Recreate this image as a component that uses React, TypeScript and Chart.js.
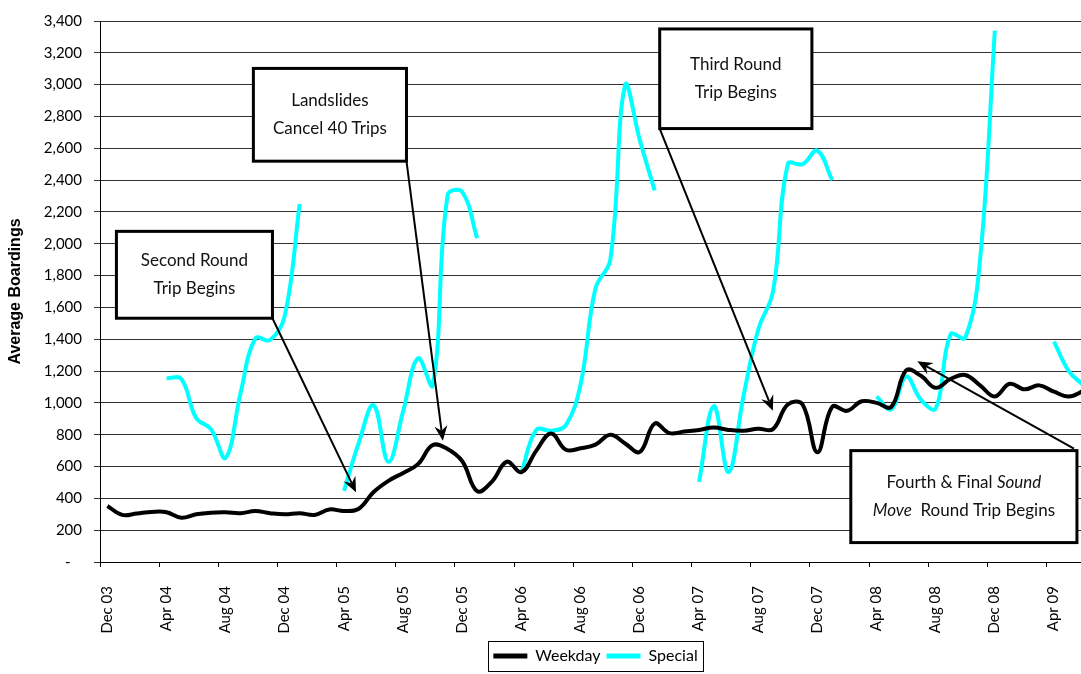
import React, { useEffect, useRef } from 'react';
import { Chart, registerables } from 'chart.js';
Chart.register(...registerables);

const FONT = "Lato, 'DejaVu Sans', sans-serif";

const months = [
  'Dec 03',
  'Jan 04', 'Feb 04', 'Mar 04', 'Apr 04', 'May 04', 'Jun 04', 'Jul 04', 'Aug 04', 'Sep 04', 'Oct 04', 'Nov 04', 'Dec 04',
  'Jan 05', 'Feb 05', 'Mar 05', 'Apr 05', 'May 05', 'Jun 05', 'Jul 05', 'Aug 05', 'Sep 05', 'Oct 05', 'Nov 05', 'Dec 05',
  'Jan 06', 'Feb 06', 'Mar 06', 'Apr 06', 'May 06', 'Jun 06', 'Jul 06', 'Aug 06', 'Sep 06', 'Oct 06', 'Nov 06', 'Dec 06',
  'Jan 07', 'Feb 07', 'Mar 07', 'Apr 07', 'May 07', 'Jun 07', 'Jul 07', 'Aug 07', 'Sep 07', 'Oct 07', 'Nov 07', 'Dec 07',
  'Jan 08', 'Feb 08', 'Mar 08', 'Apr 08', 'May 08', 'Jun 08', 'Jul 08', 'Aug 08', 'Sep 08', 'Oct 08', 'Nov 08', 'Dec 08',
  'Jan 09', 'Feb 09', 'Mar 09', 'Apr 09', 'May 09', 'Jun 09',
];

// months that carry an axis label (every fourth month)
const labelledMonths = [
  'Dec 03', 'Apr 04', 'Aug 04', 'Dec 04', 'Apr 05', 'Aug 05', 'Dec 05', 'Apr 06', 'Aug 06',
  'Dec 06', 'Apr 07', 'Aug 07', 'Dec 07', 'Apr 08', 'Aug 08', 'Dec 08', 'Apr 09',
];

const weekday = [
  352,
  296, 305, 315, 313, 278, 300, 310, 312, 307, 320, 307, 300,
  307, 296, 330, 321, 335, 440, 510, 560, 615, 735, 710, 632,
  445, 505, 630, 565, 700, 808, 705, 715, 738, 800, 745, 692,
  870, 810, 820, 830, 845, 830, 825, 838, 835, 990, 990, 690,
  975, 950, 1010, 1000, 975, 1205, 1170, 1095, 1150, 1175, 1110, 1040,
  1120, 1085, 1110, 1070, 1040, 1075,
];

const special = [
  null,
  null, null, null, 1155, 1150, 905, 835, 655, 1060, 1405, 1395, 1550,
  2250, null, null, 447, 750, 985, 630, 950, 1280, 1110, 2305, 2325,
  2035, null, null, 565, 830, 825, 860, 1120, 1720, 1900, 2995, 2650,
  2335, null, null, 503, 980, 565, 1040, 1460, 1700, 2500, 2500, 2585,
  2400, null, null, 1040, 960, 1165, 1020, 965, 1430, 1410, 1900, 3340,
  null, null, null, 1385, 1200, 1110,
];

const yTicks = [0, 200, 400, 600, 800, 1000, 1200, 1400, 1600, 1800, 2000, 2200, 2400, 2600, 2800, 3000, 3200, 3400];

type Seg = { t: string; i?: boolean };
type Note = {
  lines: Seg[][];
  x0: number; x1: number; yTop: number; yBot: number; // box in data units
  tail: 'br' | 'bl' | 'tr';
  tipX: number; tipY: number; // arrow tip in data units
};

const notes: Note[] = [
  { lines: [[{ t: 'Landslides' }], [{ t: 'Cancel 40 Trips' }]], x0: 9.87, x1: 20.22, yTop: 3102, yBot: 2519, tail: 'br', tipX: 22.68, tipY: 762 },
  { lines: [[{ t: 'Second Round' }], [{ t: 'Trip Begins' }]], x0: 0.61, x1: 11.16, yTop: 2078, yBot: 1532, tail: 'br', tipX: 16.81, tipY: 439 },
  { lines: [[{ t: 'Third Round' }], [{ t: 'Trip Begins' }]], x0: 37.34, x1: 47.63, yTop: 3350, yBot: 2724, tail: 'bl', tipX: 44.99, tipY: 951 },
  {
    lines: [[{ t: 'Fourth & Final ' }, { t: 'Sound', i: true }], [{ t: 'Move', i: true }, { t: '  Round Trip Begins' }]],
    x0: 50.26, x1: 65.55, yTop: 700, yBot: 122, tail: 'tr', tipX: 54.76, tipY: 1261,
  },
];

const NOTE_FONT = 17;

const notesPlugin = {
  id: 'notes',
  afterDatasetsDraw(chart: any) {
    const { ctx } = chart;
    const xs = chart.scales.x;
    const ys = chart.scales.y;
    ctx.save();
    for (const n of notes) {
      const L = xs.getPixelForValue(n.x0);
      const R = xs.getPixelForValue(n.x1);
      const T = ys.getPixelForValue(n.yTop);
      const B = ys.getPixelForValue(n.yBot);
      // arrow
      let tx = R, ty = B;
      if (n.tail === 'bl') { tx = L; ty = B; }
      if (n.tail === 'tr') { tx = R - 3; ty = T - 2; }
      const px = xs.getPixelForValue(n.tipX);
      const py = ys.getPixelForValue(n.tipY);
      const dx = px - tx, dy = py - ty;
      const len = Math.hypot(dx, dy);
      const ux = dx / len, uy = dy / len;
      const nx = -uy, ny = ux;
      const AL = 15, AW = 6.5, notch = 5;
      ctx.strokeStyle = '#000';
      ctx.lineWidth = 2;
      ctx.beginPath();
      ctx.moveTo(tx, ty);
      ctx.lineTo(px - ux * (AL - notch), py - uy * (AL - notch));
      ctx.stroke();
      ctx.fillStyle = '#000';
      ctx.beginPath();
      ctx.moveTo(px, py);
      ctx.lineTo(px - ux * AL + nx * AW, py - uy * AL + ny * AW);
      ctx.lineTo(px - ux * (AL - notch), py - uy * (AL - notch));
      ctx.lineTo(px - ux * AL - nx * AW, py - uy * AL - ny * AW);
      ctx.closePath();
      ctx.fill();
      // box
      ctx.fillStyle = '#fff';
      ctx.fillRect(L, T, R - L, B - T);
      ctx.lineWidth = 3;
      ctx.strokeStyle = '#000';
      ctx.strokeRect(L, T, R - L, B - T);
      // text
      const cx = (L + R) / 2;
      const cy = (T + B) / 2;
      const gap = 28;
      ctx.fillStyle = '#111';
      ctx.textBaseline = 'middle';
      ctx.textAlign = 'left';
      n.lines.forEach((segs, li) => {
        const yLine = cy + (li - (n.lines.length - 1) / 2) * gap;
        let w = 0;
        for (const s of segs) {
          ctx.font = `${s.i ? 'italic ' : ''}${NOTE_FONT}px ${FONT}`;
          w += ctx.measureText(s.t).width;
        }
        let x = cx - w / 2;
        for (const s of segs) {
          ctx.font = `${s.i ? 'italic ' : ''}${NOTE_FONT}px ${FONT}`;
          ctx.fillText(s.t, x, yLine);
          x += ctx.measureText(s.t).width;
        }
      });
    }
    ctx.restore();
  },
  afterDraw(chart: any) {
    const lg = chart.legend;
    if (!lg || !lg.legendHitBoxes || !lg.legendHitBoxes.length) return;
    const hb = lg.legendHitBoxes;
    const first = hb[0];
    const last = hb[hb.length - 1];
    const left = first.left - 5;
    const right = last.left + last.width + 6;
    const cy = first.top + first.height / 2;
    const { ctx } = chart;
    ctx.save();
    ctx.strokeStyle = '#000';
    ctx.lineWidth = 1;
    ctx.strokeRect(Math.round(left) + 0.5, Math.round(cy - 15) + 0.5, Math.round(right - left), 30);
    ctx.restore();
  },
};

export default function App() {
  const ref = useRef<HTMLCanvasElement | null>(null);
  useEffect(() => {
    if (!ref.current) return;
    const chart = new Chart(ref.current, {
      type: 'line',
      data: {
        datasets: [
          {
            label: 'Weekday',
            data: weekday.map((v, i) => ({ x: i, y: v })),
            borderColor: '#000000',
            backgroundColor: '#000000',
            borderWidth: 4,
            pointRadius: 0,
            tension: 0.4,
            spanGaps: false,
          },
          {
            label: 'Special',
            data: special.map((v, i) => ({ x: i, y: v })),
            borderColor: '#00FFFF',
            backgroundColor: '#00FFFF',
            borderWidth: 4,
            pointRadius: 0,
            tension: 0.4,
            spanGaps: false,
          },
        ],
      },
      options: {
        responsive: false,
        animation: false,
        events: [],
        layout: { padding: { left: 0, right: 9, top: 15, bottom: 0 } },
        plugins: {
          legend: {
            position: 'bottom',
            fullSize: false,
            labels: {
              boxWidth: 34,
              boxHeight: 5,
              padding: 6,
              color: '#000',
              font: { family: FONT, size: 16 },
              generateLabels: (c: any) =>
                (Chart.defaults.plugins.legend.labels as any)
                  .generateLabels(c)
                  .map((l: any) => ({ ...l, lineWidth: 0 })),
            },
          },
          tooltip: { enabled: false },
        },
        scales: {
          x: {
            type: 'linear',
            min: -0.5,
            max: months.length - 0.5,
            afterBuildTicks: (s: any) => {
              s.ticks = labelledMonths.map((m) => ({ value: months.indexOf(m) - 0.5 }));
            },
            afterFit: (s: any) => {
              s.height = 80;
            },
            grid: { display: true, drawOnChartArea: false, drawTicks: true, tickLength: 5, color: '#000' },
            border: { display: true, color: '#000', width: 1 },
            ticks: {
              autoSkip: false,
              maxRotation: 90,
              minRotation: 90,
              labelOffset: 7,
              padding: 19,
              color: '#000',
              font: { family: FONT, size: 15 },
              callback: (v: any) => months[Math.round(Number(v) + 0.5)] ?? '',
            },
          },
          y: {
            min: 0,
            max: 3400,
            afterBuildTicks: (s: any) => {
              s.ticks = yTicks.map((v) => ({ value: v }));
            },
            afterFit: (s: any) => {
              s.width = 100;
            },
            grid: { color: '#333', tickLength: 6, drawTicks: true },
            border: { display: true, color: '#000', width: 1 },
            ticks: {
              padding: 12,
              color: '#000',
              font: { family: FONT, size: 15 },
              callback: (v: any) => (Number(v) === 0 ? '-   ' : Number(v).toLocaleString('en-US')),
            },
            title: {
              display: true,
              text: 'Average Boardings',
              color: '#000',
              font: { family: "'Liberation Sans', Arial, sans-serif", size: 16, weight: 'bold' },
              padding: { top: 6, bottom: 0 },
            },
          },
        },
      } as any,
      plugins: [notesPlugin],
    });
    return () => chart.destroy();
  }, []);
  return (
    <div style={{ position: 'fixed', left: 0, top: 0, width: 1081, height: 674, overflow: 'hidden', background: '#fff' }}>
      <canvas ref={ref} width={1100} height={674} style={{ display: 'block' }} />
    </div>
  );
}
